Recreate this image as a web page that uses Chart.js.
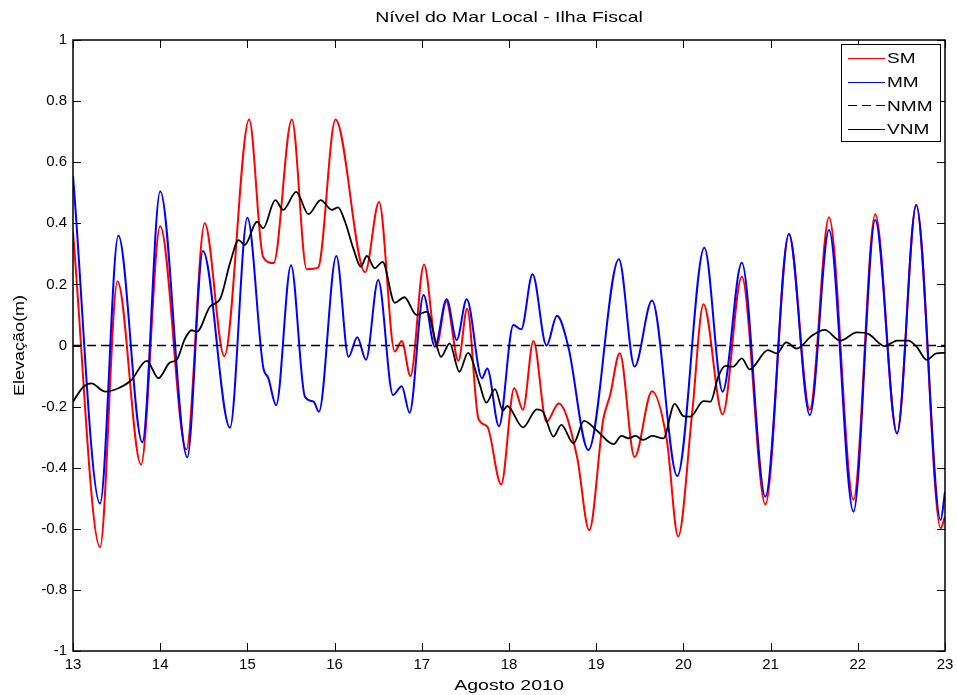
<!DOCTYPE html>
<html>
<head>
<meta charset="utf-8">
<title>Nível do Mar Local - Ilha Fiscal</title>
<script src="https://cdn.jsdelivr.net/npm/chart.js@4.4.0/dist/chart.umd.min.js"></script>
<style>
    html, body { margin: 0; padding: 0; background: #fff; }
    #wrap { width: 957px; height: 695px; }
</style>
</head>
<body>
<div id="wrap"><canvas id="nivelChart" width="957" height="695"></canvas></div>
<script>
// Dados (dias de agosto 2010 / elevação em m)
const seriesNames = ['SM', 'MM', 'NMM', 'VNM'];

const smDias = [13.0, 13.31, 13.51, 13.78, 14.0, 14.30, 14.51, 14.735, 15.02, 15.18, 15.30, 15.51,
    15.68, 15.81, 16.01, 16.35, 16.51, 16.69, 16.77, 16.87, 17.025, 17.17, 17.28, 17.42, 17.52,
    17.65, 17.75, 17.91, 18.06, 18.16, 18.28, 18.43, 18.57, 18.78, 18.92, 19.08, 19.16, 19.27,
    19.44, 19.64, 19.81, 19.94, 20.10, 20.23, 20.45, 20.67, 20.94, 21.21, 21.45, 21.67, 21.95,
    22.20, 22.45, 22.67, 22.95, 23.0];
const smValores = [0.37, -0.66, 0.21, -0.39, 0.39, -0.34, 0.40, -0.035, 0.74, 0.29, 0.27, 0.74,
    0.25, 0.255, 0.74, 0.24, 0.47, -0.02, 0.015, -0.10, 0.265, 0.0, 0.145, -0.05, 0.12,
    -0.24, -0.265, -0.455, -0.14, -0.21, 0.015, -0.25, -0.19, -0.364, -0.605, -0.244, -0.162, -0.025,
    -0.365, -0.15, -0.31, -0.625, -0.222, 0.135, -0.225, 0.225, -0.52, 0.365, -0.21, 0.42, -0.505,
    0.43, -0.288, 0.46, -0.598, -0.56];

const mmDias = [13.0, 13.31, 13.52, 13.795, 14.0, 14.31, 14.49, 14.80, 15.0, 15.18, 15.24, 15.33,
    15.50, 15.66, 15.76, 15.82, 16.02, 16.16, 16.26, 16.36, 16.50, 16.67, 16.77, 16.86, 17.02,
    17.15, 17.285, 17.40, 17.515, 17.69, 17.75, 17.885, 18.05, 18.14, 18.27, 18.43, 18.55, 18.68,
    18.91, 19.26, 19.44, 19.64, 19.93, 20.24, 20.45, 20.67, 20.94, 21.21, 21.45, 21.67, 21.95,
    22.20, 22.45, 22.67, 22.95, 23.0];
const mmValores = [0.555, -0.517, 0.36, -0.317, 0.505, -0.366, 0.309, -0.269, 0.418, -0.069, -0.107, -0.195,
    0.263, -0.168, -0.184, -0.217, 0.293, -0.037, 0.027, -0.047, 0.214, -0.162, -0.133, -0.22, 0.165,
    -0.004, 0.151, 0.018, 0.151, -0.107, -0.075, -0.264, 0.067, 0.053, 0.233, 0.0, 0.097, -0.004,
    -0.342, 0.282, -0.069, 0.147, -0.427, 0.32, -0.151, 0.271, -0.495, 0.365, -0.228, 0.378, -0.544,
    0.411, -0.288, 0.46, -0.571, -0.478];

const nmmDias = [13, 23];
const nmmValores = [0, 0];

const vnmDias = [13.0, 13.12, 13.21, 13.37, 13.52, 13.67, 13.845, 13.98, 14.11, 14.19, 14.28, 14.36,
    14.42, 14.57, 14.69, 14.80, 14.90, 14.97, 15.11, 15.18, 15.32, 15.41, 15.56, 15.70, 15.84,
    15.97, 16.04, 16.12, 16.22, 16.30, 16.37, 16.46, 16.55, 16.69, 16.80, 16.94, 17.06, 17.17,
    17.22, 17.32, 17.43, 17.53, 17.66, 17.74, 17.84, 17.93, 17.98, 18.16, 18.32, 18.39, 18.51,
    18.60, 18.74, 18.86, 19.01, 19.20, 19.29, 19.37, 19.45, 19.54, 19.64, 19.77, 19.90, 20.00,
    20.08, 20.23, 20.31, 20.40, 20.48, 20.57, 20.67, 20.76, 20.97, 21.07, 21.18, 21.30, 21.47,
    21.62, 21.80, 21.99, 22.12, 22.31, 22.45, 22.58, 22.68, 22.79, 22.90, 23.0];
const vnmValores = [-0.184, -0.135, -0.124, -0.151, -0.14, -0.113, -0.05, -0.107, -0.056, -0.047, 0.02, 0.05,
    0.045, 0.127, 0.154, 0.269, 0.345, 0.329, 0.405, 0.384, 0.476, 0.444, 0.503, 0.43, 0.476,
    0.444, 0.452, 0.405, 0.313, 0.258, 0.293, 0.253, 0.274, 0.14, 0.158, 0.1, 0.111, 0.0,
    -0.037, 0.007, -0.086, -0.024, -0.124, -0.187, -0.143, -0.213, -0.198, -0.268, -0.209, -0.217, -0.298,
    -0.26, -0.32, -0.247, -0.279, -0.323, -0.296, -0.304, -0.296, -0.309, -0.296, -0.304, -0.191, -0.231,
    -0.233, -0.182, -0.184, -0.102, -0.067, -0.069, -0.042, -0.078, -0.015, -0.026, 0.01, -0.01, 0.031,
    0.051, 0.016, 0.043, 0.038, -0.002, 0.016, 0.016, -0.006, -0.047, -0.026, -0.024];

const xTicks = [13, 14, 15, 16, 17, 18, 19, 20, 21, 22, 23];
const yTicks = [-1, -0.8, -0.6, -0.4, -0.2, 0, 0.2, 0.4, 0.6, 0.8, 1];

const titulo = 'Nível do Mar Local - Ilha Fiscal';
const tituloX = 'Agosto 2010';
const tituloY = 'Elevação(m)';

const FONTE = 'Liberation Sans, Arial, Helvetica, sans-serif';

function pares(dias, valores) {
    return dias.map((d, i) => ({ x: d, y: valores[i] }));
}

// texto um pouco "esticado" na horizontal, como no original
function textoLargo(ctx, txt, x, y, esticar, align) {
    ctx.save();
    ctx.translate(x, y);
    ctx.scale(esticar, 1);
    ctx.textAlign = align || 'center';
    ctx.textBaseline = 'middle';
    ctx.fillText(txt, 0, 0);
    ctx.restore();
}

// moldura estilo MATLAB: caixa + marcas para dentro nos 4 lados
const molduraPlugin = {
    id: 'moldura',
    afterDatasetsDraw(chart) {
        const { ctx, chartArea: a, scales } = chart;
        const len = 8;
        ctx.save();
        ctx.strokeStyle = '#000';
        ctx.lineWidth = 1;
        ctx.beginPath();
        xTicks.forEach(v => {
            const px = Math.round(scales.x.getPixelForValue(v)) + 0.5;
            ctx.moveTo(px, a.bottom); ctx.lineTo(px, a.bottom - len);
            ctx.moveTo(px, a.top); ctx.lineTo(px, a.top + len);
        });
        yTicks.forEach(v => {
            const py = Math.round(scales.y.getPixelForValue(v)) + 0.5;
            ctx.moveTo(a.left, py); ctx.lineTo(a.left + len, py);
            ctx.moveTo(a.right, py); ctx.lineTo(a.right - len, py);
        });
        ctx.stroke();
        ctx.lineWidth = 1.5;
        ctx.strokeRect(a.left, a.top, a.right - a.left, a.bottom - a.top);
        ctx.restore();
    },
    afterDraw(chart) {
        const { ctx, chartArea: a } = chart;
        const cx = (a.left + a.right) / 2;
        ctx.save();
        ctx.fillStyle = '#000';
        ctx.font = '15px ' + FONTE;
        textoLargo(ctx, titulo, cx, 18, 1.3);
        textoLargo(ctx, tituloX, cx, 686, 1.3);
        ctx.translate(20, (a.top + a.bottom) / 2);
        ctx.rotate(-Math.PI / 2);
        textoLargo(ctx, tituloY, 0, 0, 1.2);
        ctx.restore();

        // legenda dentro do eixo, canto superior direito
        const bx = a.right - 104, by = a.top + 4, bw = 99, bh = 97;
        ctx.save();
        ctx.fillStyle = '#fff';
        ctx.fillRect(bx, by, bw, bh);
        ctx.strokeStyle = '#000';
        ctx.lineWidth = 1;
        ctx.strokeRect(bx + 0.5, by + 0.5, bw, bh);
        ctx.font = '15px ' + FONTE;
        chart.data.datasets.forEach((ds, i) => {
            const y = by + 14 + i * 23.7;
            ctx.beginPath();
            ctx.strokeStyle = ds.borderColor;
            ctx.lineWidth = 1;
            ctx.setLineDash(ds.borderDash || []);
            ctx.moveTo(bx + 7, Math.round(y) + 0.5);
            ctx.lineTo(bx + 44, Math.round(y) + 0.5);
            ctx.stroke();
            ctx.setLineDash([]);
            ctx.fillStyle = '#000';
            textoLargo(ctx, ds.label, bx + 46, y + 1, 1.27, 'left');
        });
        ctx.restore();
    }
};

const ctx = document.getElementById('nivelChart');

new Chart(ctx, {
    type: 'line',
    data: {
        datasets: [{
            label: seriesNames[0],
            data: pares(smDias, smValores),
            borderColor: '#ff0000',
            borderWidth: 2,
            order: 4
        }, {
            label: seriesNames[1],
            data: pares(mmDias, mmValores),
            borderColor: '#0000ff',
            borderWidth: 2,
            order: 3
        }, {
            label: seriesNames[2],
            data: pares(nmmDias, nmmValores),
            borderColor: '#000000',
            borderWidth: 1.3,
            borderDash: [9, 5],
            order: 2
        }, {
            label: seriesNames[3],
            data: pares(vnmDias, vnmValores),
            borderColor: '#000000',
            borderWidth: 1.8,
            order: 1
        }]
    },
    options: {
        responsive: false,
        animation: false,
        devicePixelRatio: 1,
        elements: {
            point: { radius: 0 },
            line: { cubicInterpolationMode: 'monotone', fill: false }
        },
        layout: {
            padding: { top: 40, right: 12, bottom: 0, left: 0 }
        },
        plugins: {
            legend: { display: false },
            tooltip: { enabled: false },
            title: { display: false }
        },
        scales: {
            x: {
                type: 'linear',
                min: 13,
                max: 23,
                afterBuildTicks: s => { s.ticks = xTicks.map(v => ({ value: v })); },
                afterFit: s => { s.height = 44; s.paddingLeft = 0; s.paddingRight = 0; },
                grid: { display: false, drawTicks: false },
                border: { display: false },
                ticks: {
                    color: '#000',
                    padding: 5,
                    maxRotation: 0,
                    autoSkip: false,
                    font: { family: FONTE, size: 15 }
                }
            },
            y: {
                type: 'linear',
                min: -1,
                max: 1,
                afterBuildTicks: s => { s.ticks = yTicks.map(v => ({ value: v })); },
                afterFit: s => { s.width = 73; s.paddingTop = 0; s.paddingBottom = 0; },
                grid: { display: false, drawTicks: false },
                border: { display: false },
                ticks: {
                    color: '#000',
                    padding: 6,
                    autoSkip: false,
                    font: { family: FONTE, size: 15 },
                    callback: v => String(Number(v.toFixed(1)))
                }
            }
        }
    },
    plugins: [molduraPlugin]
});
</script>
</body>
</html>
